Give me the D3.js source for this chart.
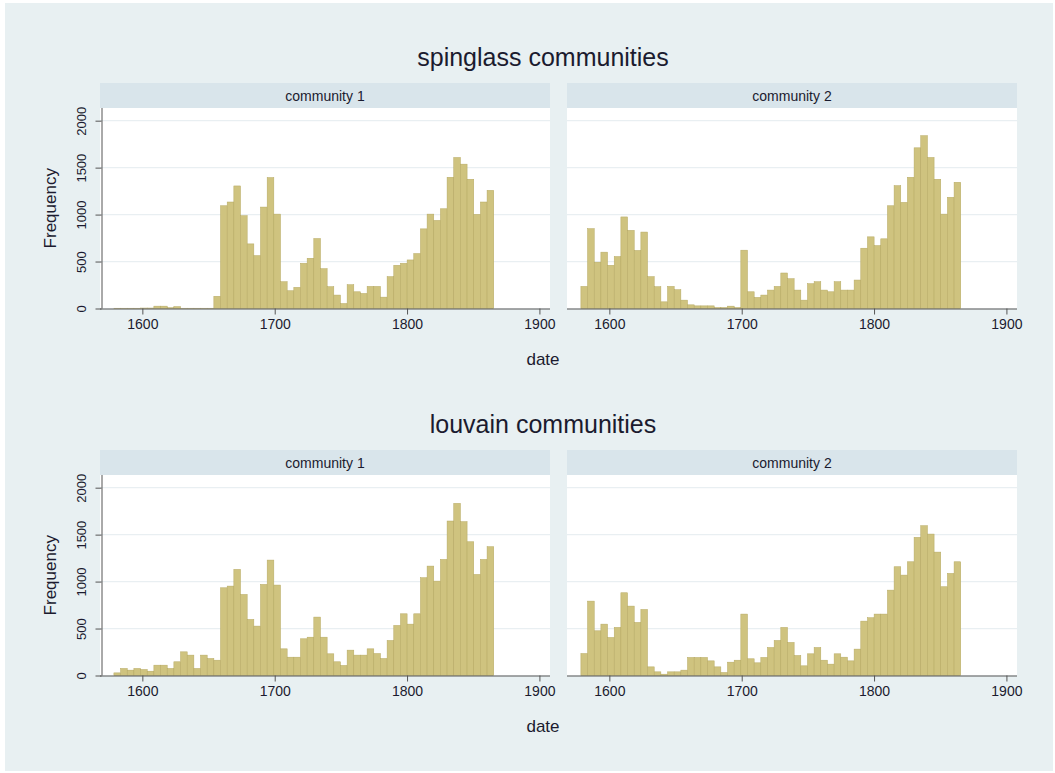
<!DOCTYPE html>
<html>
<head>
<meta charset="utf-8">
<script src="https://cdn.jsdelivr.net/npm/d3@7.9.0/dist/d3.min.js"></script>
<style>
  body { margin: 0; background: #fff; }
  svg text { font-family: "Liberation Sans", Arial, Helvetica, sans-serif; fill: #1b1b2f; }
</style>
</head>
<body>
<svg id="chart" width="1055" height="773"></svg>
<script>
// === Data (histogram bins of date, ~5-year width) ===
const binStart = 1578.5;
const binWidth = 5.035;

const spinglass1 = [3, 3, 3, 3, 5, 5, 25, 25, 8, 20, 3, 3, 3, 3, 3,
  130, 1094, 1134, 1305, 988, 688, 563, 1080, 1394, 1005, 285, 189, 225, 481, 535,
  745, 424, 232, 143, 53, 253, 178, 160, 235, 235, 121, 339, 460, 481, 517,
  585, 848, 1005, 938, 1062, 1397, 1608, 1537, 1376, 1002, 1134, 1258];

const spinglass2 = [235, 850, 493, 600, 460, 553, 975, 832, 618, 814, 339, 232, 71, 235, 200,
  89, 39, 28, 28, 28, 10, 10, 25, 10, 621, 178, 118, 143, 196, 235,
  378, 317, 196, 89, 264, 285, 196, 178, 285, 196, 196, 303, 642, 763, 670,
  742, 1094, 1308, 1130, 1397, 1711, 1840, 1608, 1376, 1005, 1184, 1344];

const louvain1 = [28, 75, 57, 75, 64, 46, 110, 110, 75, 146, 252, 217, 75, 217, 181,
  163, 934, 952, 1130, 863, 597, 526, 970, 1229, 963, 284, 195, 195, 391, 408,
  622, 408, 231, 146, 107, 270, 217, 217, 284, 234, 181, 373, 533, 657, 547,
  657, 1041, 1165, 1005, 1236, 1645, 1833, 1638, 1424, 1076, 1236, 1371];

const louvain2 = [234, 792, 476, 547, 405, 512, 881, 739, 565, 703, 92, 39, 14, 39, 39,
  57, 192, 192, 192, 156, 92, 32, 142, 163, 654, 178, 135, 192, 298, 373,
  512, 352, 213, 103, 231, 298, 163, 121, 231, 195, 156, 281, 579, 615, 654,
  654, 909, 1158, 1069, 1211, 1471, 1595, 1506, 1314, 945, 1087, 1211];

const rowTitles = ['spinglass communities', 'louvain communities'];
const panelLabels = ['community 1', 'community 2'];
const xTicks = [1600, 1700, 1800, 1900];
const yTicks = [0, 500, 1000, 1500, 2000];

const rows = [
  [spinglass1, spinglass2],
  [louvain1, louvain2]
];

// === Layout ===
const svg = d3.select('#chart');
const panelW = 450;
const panelLeft = [100, 567];
const rowOffset = 367;
const stripTop = 83, plotTop = 108, baseY = 308.5;

const barFill = '#cfc37f';
const barStroke = '#b5a861';

svg.append('rect').attr('x', 5).attr('y', 3).attr('width', 1048).attr('height', 768)
  .attr('fill', '#e8f0f2');

const x = d3.scaleLinear().domain([1568, 1908]).range([0, panelW]);
const y = d3.scaleLinear().domain([0, 2135]).range([baseY - plotTop, 0]);
const plotH = baseY - plotTop;

rows.forEach((row, r) => {
  const dy = r * rowOffset;

  // row title
  svg.append('text')
    .attr('x', 543).attr('y', 66 + dy)
    .attr('text-anchor', 'middle')
    .attr('font-size', 25)
    .text(rowTitles[r]);

  // y axis title
  svg.append('text')
    .attr('transform', `translate(56,${(plotTop + baseY) / 2 + dy}) rotate(-90)`)
    .attr('text-anchor', 'middle')
    .attr('font-size', 17)
    .text('Frequency');

  // x axis title
  svg.append('text')
    .attr('x', 543).attr('y', 365 + dy)
    .attr('text-anchor', 'middle')
    .attr('font-size', 17)
    .text('date');

  row.forEach((values, c) => {
    const g = svg.append('g').attr('transform', `translate(${panelLeft[c]},${dy})`);

    // strip
    g.append('rect').attr('x', 0).attr('y', stripTop)
      .attr('width', panelW).attr('height', plotTop - stripTop)
      .attr('fill', '#d9e5eb');
    g.append('text')
      .attr('x', panelW / 2).attr('y', 101)
      .attr('text-anchor', 'middle')
      .attr('font-size', 14)
      .text(panelLabels[c]);

    const plot = g.append('g').attr('transform', `translate(0,${plotTop})`);
    plot.append('rect').attr('width', panelW).attr('height', plotH).attr('fill', '#fff');

    // gridlines
    plot.selectAll('.grid')
      .data(yTicks.filter(d => d > 0))
      .join('line')
      .attr('x1', 0).attr('x2', panelW)
      .attr('y1', d => y(d)).attr('y2', d => y(d))
      .attr('stroke', '#e9eff2').attr('stroke-width', 1.2);

    // bars
    plot.selectAll('.bar')
      .data(values)
      .join('rect')
      .attr('x', (d, i) => x(binStart + i * binWidth))
      .attr('width', x(binStart + binWidth) - x(binStart))
      .attr('y', d => y(d))
      .attr('height', d => y(0) - y(d))
      .attr('fill', barFill)
      .attr('stroke', barStroke)
      .attr('stroke-width', 0.5);

    // x axis
    const xAxis = plot.append('g')
      .attr('transform', `translate(0,${plotH})`)
      .call(d3.axisBottom(x).tickValues(xTicks).tickFormat(d3.format('d')).tickSize(6).tickPadding(5));
    xAxis.select('.domain').attr('stroke', '#555').attr('d', `M0,0.5H${panelW}`);
    xAxis.selectAll('.tick line').attr('stroke', '#555');
    xAxis.selectAll('.tick text').attr('font-size', 14).attr('fill', '#1b1b2f')
      .style('font-family', '"Liberation Sans", Arial, sans-serif');

    // y axis (left panel only)
    if (c === 0) {
      const yAxis = plot.append('g')
        .attr('transform', 'translate(1.5,0)')
        .call(d3.axisLeft(y).tickValues(yTicks).tickFormat(d3.format('d')).tickSize(6).tickPadding(4));
      yAxis.select('.domain').attr('stroke', '#555').attr('d', `M0.5,0V${plotH}`);
      yAxis.selectAll('.tick line').attr('stroke', '#555');
      yAxis.selectAll('.tick text')
        .attr('font-size', 13).attr('fill', '#1b1b2f')
        .style('font-family', '"Liberation Sans", Arial, sans-serif')
        .attr('x', null).attr('dy', null)
        .attr('text-anchor', 'middle')
        .attr('transform', 'translate(-16,0) rotate(-90)');
    }
  });
});
</script>
</body>
</html>
